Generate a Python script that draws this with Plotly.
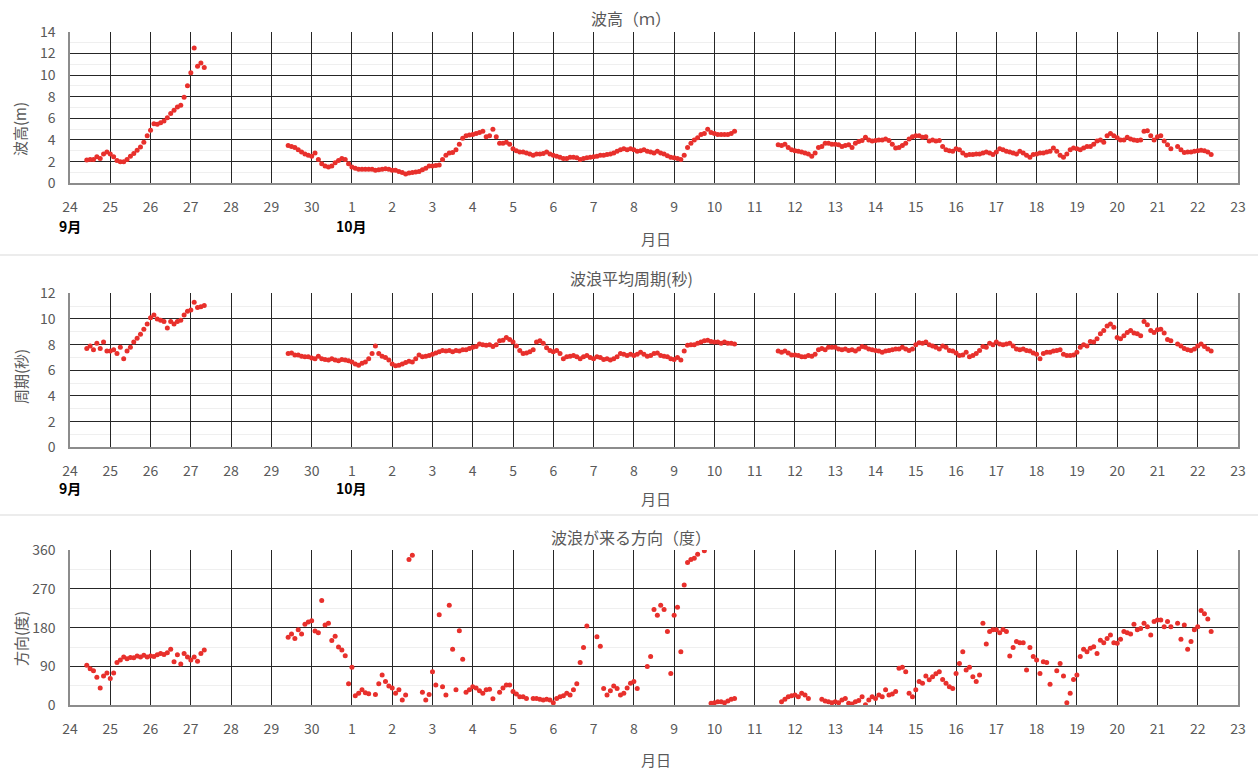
import pandas as pd
import plotly.graph_objects as go

# ---- observation data (2-hourly), three continuous records ----
seg_starts = ["2019-09-24 10:00", "2019-09-29 10:00", "2019-10-11 14:00"]

# significant wave height (m)
height_a = [2.15, 2.2, 2.2, 2.45, 2.3, 2.7, 2.9,
            2.7, 2.45, 2.1, 2.0, 2.0, 2.2, 2.5, 2.75, 3.05, 3.35, 3.8, 4.4,
            4.9, 5.5, 5.45, 5.6, 5.75, 6.05, 6.45, 6.75, 7.05, 7.2, 7.95, 9.0,
            10.2, 12.5, 10.8, 11.1, 10.7]
height_b = [3.5, 3.4, 3.3, 3.1, 2.9, 2.7, 2.6,
            2.5, 2.8, 2.2, 1.8, 1.6, 1.5, 1.6, 1.9, 2.1, 2.3, 2.2, 1.8,
            1.5, 1.4, 1.3, 1.3, 1.3, 1.3, 1.3, 1.2, 1.25, 1.3, 1.35, 1.3,
            1.2, 1.2, 1.1, 1.0, 0.85, 0.95, 1.0, 1.05, 1.1, 1.25, 1.4, 1.6,
            1.6, 1.65, 1.7, 2.2, 2.6, 2.8, 2.85, 3.1, 3.6, 4.15, 4.4, 4.45,
            4.5, 4.6, 4.7, 4.8, 4.3, 4.4, 5.0, 4.3, 3.7, 3.7, 3.8, 3.6,
            3.2, 3.0, 2.9, 2.9, 2.8, 2.7, 2.6, 2.7, 2.7, 2.75, 2.9, 2.7,
            2.6, 2.5, 2.4, 2.3, 2.3, 2.4, 2.4, 2.35, 2.2, 2.3, 2.35, 2.4,
            2.45, 2.5, 2.6, 2.6, 2.65, 2.7, 2.8, 2.95, 3.1, 3.2, 3.1, 3.2,
            3.1, 2.95, 3.0, 3.1, 2.95, 2.9, 2.8, 2.95, 2.8, 2.7, 2.55, 2.4,
            2.35, 2.3, 2.2, 2.6, 3.3, 3.7, 4.0, 4.2, 4.5, 4.6, 5.0, 4.7,
            4.6, 4.5, 4.5, 4.5, 4.5, 4.6, 4.8]
height_c = [3.55, 3.5, 3.6, 3.3, 3.1,
            3.0, 2.95, 2.9, 2.8, 2.7, 2.5, 2.8, 3.3, 3.4, 3.7, 3.7, 3.6,
            3.6, 3.55, 3.4, 3.5, 3.55, 3.3, 3.7, 3.85, 3.95, 4.25, 4.0, 3.9,
            3.95, 4.0, 4.0, 4.1, 3.95, 3.6, 3.25, 3.3, 3.5, 3.7, 4.1, 4.3,
            4.4, 4.4, 4.25, 4.3, 3.9, 4.0, 3.9, 3.95, 3.4, 3.1, 3.0, 2.95,
            3.2, 3.1, 2.8, 2.6, 2.65, 2.65, 2.7, 2.7, 2.8, 2.9, 2.8, 2.65,
            2.9, 3.2, 3.1, 2.95, 2.9, 2.8, 2.7, 2.95, 2.8, 2.6, 2.4, 2.65,
            2.7, 2.8, 2.8, 2.9, 2.95, 3.25, 2.95, 2.6, 2.4, 2.7, 3.1, 3.25,
            3.2, 3.1, 3.25, 3.4, 3.4, 3.6, 3.9, 4.0, 3.8, 4.4, 4.6, 4.4,
            4.2, 4.0, 4.0, 4.25, 4.1, 4.0, 3.95, 4.0, 4.8, 4.85, 4.4, 4.0,
            4.3, 4.4, 3.9, 3.55, 3.2, None, 3.4, 3.1, 2.85, 2.9, 2.9, 2.95,
            3.0, 3.05, 3.0, 2.9, 2.65]

# mean wave period (s)
period_a = [7.7, 7.9, 7.6, 8.1, 7.7, 8.2, 7.5,
            7.5, 7.6, 7.3, 7.8, 6.9, 7.5, 7.8, 8.2, 8.5, 8.8, 9.2, 9.6,
            10.1, 10.3, 10.0, 9.9, 9.8, 9.3, 9.8, 9.6, 9.8, 9.9, 10.3, 10.6,
            10.7, 11.3, 10.9, 10.95, 11.05]
period_b = [7.3, 7.35, 7.2, 7.2, 7.1, 7.05, 7.05,
            6.95, 6.9, 7.1, 6.9, 6.85, 6.8, 6.9, 6.8, 6.75, 6.85, 6.8, 6.75,
            6.65, 6.5, 6.4, 6.55, 6.65, 6.9, 7.3, 7.9, 7.3, 7.1, 7.0, 6.8,
            6.5, 6.35, 6.4, 6.5, 6.6, 6.7, 6.65, 6.9, 7.2, 7.05, 7.1, 7.15,
            7.25, 7.35, 7.45, 7.55, 7.5, 7.55, 7.45, 7.55, 7.5, 7.6, 7.6, 7.7,
            7.8, 7.85, 8.05, 8.0, 7.95, 8.0, 7.85, 8.0, 8.3, 8.35, 8.55, 8.4,
            8.2, 7.9, 7.55, 7.3, 7.35, 7.45, 7.6, 8.2, 8.3, 8.1, 7.75, 7.55,
            7.45, 7.55, 7.3, 6.9, 7.05, 7.1, 7.15, 7.05, 6.9, 7.05, 7.15, 7.0,
            6.9, 7.05, 7.0, 6.85, 6.9, 6.8, 6.9, 7.05, 7.3, 7.25, 7.15, 7.25,
            7.15, 7.25, 7.4, 7.25, 7.1, 7.15, 7.3, 7.35, 7.15, 7.1, 7.05, 6.9,
            6.85, 7.0, 6.8, 7.5, 7.95, 8.0, 8.0, 8.1, 8.2, 8.3, 8.35, 8.25,
            8.2, 8.2, 8.1, 8.2, 8.1, 8.1, 8.05]
period_c = [7.5, 7.4, 7.5, 7.35, 7.2,
            7.2, 7.15, 7.05, 7.05, 7.15, 7.1, 7.25, 7.6, 7.7, 7.6, 7.8, 7.8,
            7.8, 7.65, 7.6, 7.65, 7.55, 7.6, 7.5, 7.65, 7.85, 7.8, 7.65, 7.6,
            7.55, 7.5, 7.4, 7.5, 7.55, 7.6, 7.65, 7.65, 7.8, 7.65, 7.55, 7.65,
            8.0, 8.15, 8.1, 8.2, 8.0, 7.9, 7.8, 7.65, 7.9, 7.8, 7.55, 7.5,
            7.35, 7.15, 7.2, 7.4, 7.05, 7.15, 7.3, 7.55, 7.85, 7.8, 8.1, 8.0,
            8.2, 8.05, 8.0, 8.05, 8.1, 7.9, 7.65, 7.6, 7.65, 7.55, 7.5, 7.35,
            7.25, 6.9, 7.3, 7.4, 7.4, 7.5, 7.55, 7.6, 7.25, 7.15, 7.15, 7.2,
            7.4, 7.8, 8.0, 7.9, 8.25, 8.2, 8.45, 8.85, 9.1, 9.45, 9.6, 9.35,
            8.55, 8.45, 8.7, 8.95, 9.1, 8.9, 8.85, 8.7, 9.8, 9.55, 9.1, 8.95,
            9.15, 9.2, 8.9, 8.4, 8.3, None, 8.05, 7.9, 7.7, 7.6, 7.55, 7.65,
            7.9, 8.05, 7.85, 7.65, 7.5]

# direction the waves come from (deg)
direction_a = [93, 85, 80, 65, 40, 68, 75,
               62, 75, 99, 105, 112, 108, 111, 110, 114, 112, 116, 112,
               114, 113, 117, 120, 118, 122, 130, 101, 117, 96, 120, 112,
               105, 112, 102, 120, 128]
direction_b = [158, 165, 155, 175, 165, 188, 193,
               196, 172, 168, 243, 186, 190, 150, 160, 135, 128, 115, 50,
               88, 22, 28, 36, 29, 27, None, 25, 50, 70, 55, 45,
               40, 28, 36, 12, 24, 338, 348, None, None, 30, 12, 25,
               78, 47, 210, 43, 24, 232, 130, 36, 173, 107, 30, 36,
               43, 40, 34, 28, 36, 37, 15, None, 30, 40, 47, 47,
               32, 26, 20, 20, 16, None, 16, 16, 14, 12, 14, 12,
               6, 16, 20, 22, 28, 24, 36, 50, 99, 134, 184, None,
               None, 159, 137, 39, 24, 34, 45, 39, 24, 28, 40, 51,
               55, 39, None, None, 90, 113, 222, 209, 232, 222, 171, 74,
               209, 227, 124, 279, 331, 338, 341, 350, None, 358, None, 5,
               6, 8, 8, 6, 10, 14, 16]
direction_c = [None, 8, 14, 20, 22,
               24, 20, 28, 24, 16, None, None, None, 14, 10, 8, 6,
               8, 6, 12, 16, 5, 3, 8, 11, 20, 1, 12, 20,
               16, 24, 20, 36, 24, 26, 32, 86, 88, 78, 28, 20,
               36, 55, 51, 68, 59, 66, 73, 78, 60, 51, 43, 39,
               74, 97, 124, 82, 88, 66, 55, 70, 190, 142, 171, 175,
               175, 168, 176, 171, 114, 134, 148, 145, 145, 82, 134, 113,
               105, 74, 101, 99, 49, None, 80, 97, 68, 6, 28, 60,
               70, 113, 130, 124, 132, 136, 120, 151, 145, 155, 163, 145,
               144, 153, 171, 168, 165, 188, 175, 178, 190, 182, 163, 194,
               198, 198, 182, 194, 182, None, 190, 153, 186, 130, 148, 175,
               182, 220, 212, 200, 171]

panel_titles = ["波高（ｍ）", "波浪平均周期(秒)", "波浪が来る方向（度）"]
y_titles = ["波高(m)", "周期(秒)", "方向(度)"]
y_ranges = [(0, 14, 2, 1), (0, 12, 2, 1), (0, 360, 90, 45)]
month_labels = [("2019-09-24", "9月"), ("2019-10-01", "10月")]
x_range = ["2019-09-24", "2019-10-23"]

W, H = 1258, 774
RED = "#E8302C"
GREY_TXT = "#595959"
FONT = "Noto Sans CJK JP"


def px_x(p):
    return p / W


def px_y(p):
    return 1 - p / H


def series(values, start):
    t = pd.date_range(start, periods=len(values), freq="2h")
    return t, values


# plot area placement in pixels: (top, bottom)
panel_px = [(31.7, 183.3), (293.3, 447.3), (550.0, 705.3)]
plot_left, plot_right = 70, 1238

fig = go.Figure()

all_data = [
    [height_a, height_b, height_c],
    [period_a, period_b, period_c],
    [direction_a, direction_b, direction_c],
]

for i, segs in enumerate(all_data):
    xa = "x" if i == 0 else f"x{i + 1}"
    ya = "y" if i == 0 else f"y{i + 1}"
    for vals, start in zip(segs, seg_starts):
        t, v = series(vals, start)
        fig.add_trace(go.Scatter(
            x=t, y=v, mode="markers", xaxis=xa, yaxis=ya,
            marker=dict(color=RED, size=5, line=dict(width=0)),
            showlegend=False, hoverinfo="x+y",
        ))

layout = dict(
    width=W, height=H,
    margin=dict(l=0, r=0, t=0, b=0, autoexpand=False),
    paper_bgcolor="white", plot_bgcolor="white",
    font=dict(family=FONT, color=GREY_TXT, size=14),
    showlegend=False,
)

annotations = []
shapes = []
for i in range(3):
    top, bottom = panel_px[i]
    lo, hi, step, minor_step = y_ranges[i]
    xkey = "xaxis" if i == 0 else f"xaxis{i + 1}"
    ykey = "yaxis" if i == 0 else f"yaxis{i + 1}"
    xa = "x" if i == 0 else f"x{i + 1}"
    ya = "y" if i == 0 else f"y{i + 1}"
    layout[xkey] = dict(
        type="date", range=x_range, domain=[px_x(plot_left), px_x(plot_right)],
        anchor=ya, dtick=86400000, tick0="2019-09-24", tickformat="%-d",
        showgrid=True, gridcolor="#262626", gridwidth=1,
        showline=True, linecolor="#8c8c8c", linewidth=1.5,
        ticks="", ticklabelstandoff=10,
        tickfont=dict(size=14, color=GREY_TXT, family=FONT),
        zeroline=False, fixedrange=True,
    )
    layout[ykey] = dict(
        range=[lo, hi], domain=[px_y(bottom), px_y(top)], anchor=xa,
        dtick=step, tick0=0, showgrid=True, gridcolor="#262626", gridwidth=1,
        minor=dict(dtick=minor_step, showgrid=True, gridcolor="#efefef", gridwidth=1),
        showline=True, mirror=True, linecolor="#8c8c8c", linewidth=1.5,
        ticks="", ticklabelstandoff=10,
        tickfont=dict(size=14, color=GREY_TXT, family=FONT),
        zeroline=False, fixedrange=True,
    )

# panel titles, axis titles and month labels
title_y = [18, 278, 537]
ytitle_y = [129, 377, 639]
xtitle_y = [238, 499, 759]
for i in range(3):
    annotations.append(dict(
        text=panel_titles[i], x=px_x(631), y=px_y(title_y[i]),
        xref="paper", yref="paper", showarrow=False,
        xanchor="center", yanchor="middle",
        font=dict(size=16, color=GREY_TXT, family=FONT),
    ))
    annotations.append(dict(
        text=y_titles[i], x=px_x(20), y=px_y(ytitle_y[i]),
        xref="paper", yref="paper", showarrow=False, textangle=-90,
        xanchor="center", yanchor="middle",
        font=dict(size=15, color=GREY_TXT, family=FONT),
    ))
    annotations.append(dict(
        text="月日", x=px_x(656), y=px_y(xtitle_y[i]),
        xref="paper", yref="paper", showarrow=False,
        xanchor="center", yanchor="middle",
        font=dict(size=15, color=GREY_TXT, family=FONT),
    ))

month_y = [226, 488]
for i in range(2):
    xref = "x" if i == 0 else "x2"
    for day, label in month_labels:
        annotations.append(dict(
            text=f"<b>{label}</b>", x=day, y=px_y(month_y[i]),
            xref=xref, yref="paper", showarrow=False,
            xanchor="center", yanchor="middle",
            font=dict(size=14, color="#000000", family=FONT),
        ))

# thin separators between the three charts
for ypx in (255, 515):
    shapes.append(dict(
        type="line", xref="paper", yref="paper",
        x0=0, x1=1, y0=px_y(ypx), y1=px_y(ypx),
        line=dict(color="#d9d9d9", width=1),
    ))

layout["annotations"] = annotations
layout["shapes"] = shapes
fig.update_layout(**layout)

# page without the default body margin so the figure fills the window
fig.write_html(
    "out.html",
    post_script="document.body.style.margin='0';document.body.style.overflow='hidden';",
)
